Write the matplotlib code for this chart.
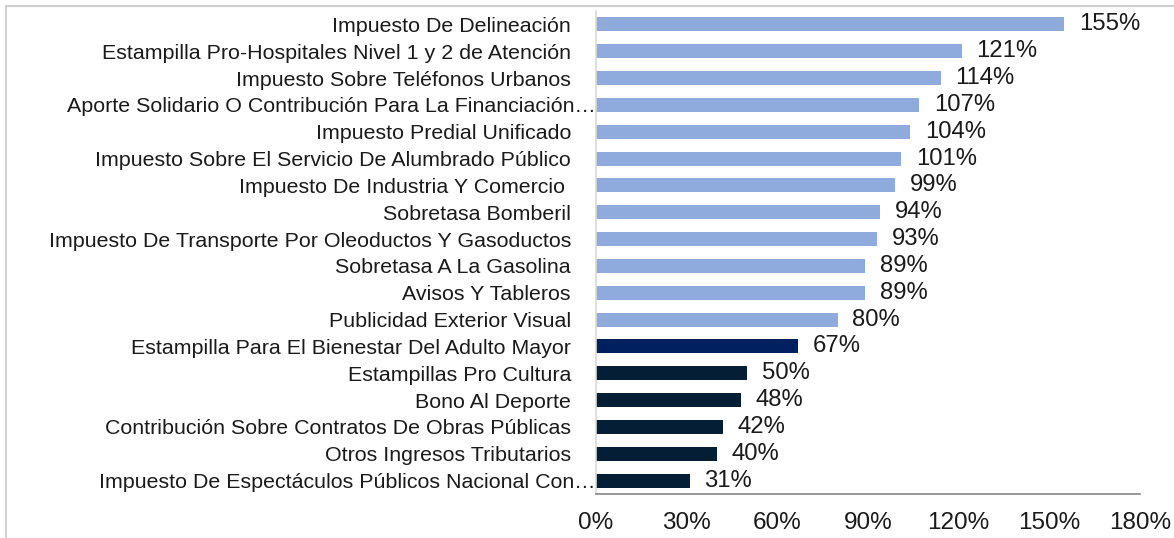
import matplotlib.pyplot as plt
from matplotlib.lines import Line2D

plt.rcParams['font.family'] = ['Liberation Sans', 'DejaVu Sans']

categorias = [
    'Impuesto De Delineación',
    'Estampilla Pro-Hospitales Nivel 1 y 2 de Atención',
    'Impuesto Sobre Teléfonos Urbanos',
    'Aporte Solidario O Contribución Para La Financiación…',
    'Impuesto Predial Unificado',
    'Impuesto Sobre El Servicio De Alumbrado Público',
    'Impuesto De Industria Y Comercio ',
    'Sobretasa Bomberil',
    'Impuesto De Transporte Por Oleoductos Y Gasoductos',
    'Sobretasa A La Gasolina',
    'Avisos Y Tableros',
    'Publicidad Exterior Visual',
    'Estampilla Para El Bienestar Del Adulto Mayor',
    'Estampillas Pro Cultura',
    'Bono Al Deporte',
    'Contribución Sobre Contratos De Obras Públicas',
    'Otros Ingresos Tributarios',
    'Impuesto De Espectáculos Públicos Nacional Con…',
]
valores = [155, 121, 114, 107, 104, 101, 99, 94, 93, 89, 89, 80, 67, 50, 48, 42, 40, 31]
grupo = ['alto'] * 12 + ['medio'] + ['bajo'] * 5
ticks_x = [0, 30, 60, 90, 120, 150, 180]

colores = {'alto': '#8FAADC', 'medio': '#002060', 'bajo': '#031E35'}
txt_color = '#1a1a1a'

fig = plt.figure(figsize=(11.74, 5.38), dpi=100)
ax = fig.add_axes([596 / 1174, 1 - 494 / 538, (1140 - 596) / 1174, (494 - 11) / 538])

pos = list(range(len(categorias)))[::-1]
bars = ax.barh(pos, valores, height=0.52, color=[colores[g] for g in grupo])

for b, v in zip(bars, valores):
    ax.annotate(f'{v}%', (b.get_width(), b.get_y() + b.get_height() / 2),
                xytext=(10.5, 0), textcoords='offset points',
                va='center', ha='left', fontsize=17.2, color=txt_color)

# las etiquetas recortadas (…) llegan hasta el eje, las demás dejan margen
etiquetas = []
for p, cat in zip(pos, categorias):
    if cat.endswith('…'):
        ax.text(0, p, cat, transform=ax.get_yaxis_transform(), ha='right',
                va='center_baseline', fontsize=15.4, color=txt_color)
        etiquetas.append('')
    else:
        etiquetas.append(cat)

ax.set_yticks(pos)
ax.set_yticklabels(etiquetas, fontsize=15.4, color=txt_color)
ax.set_ylim(-0.5, len(categorias) - 0.5)
ax.set_xlim(0, 180)
ax.set_xticks(ticks_x)
ax.set_xticklabels([f'{t}%' for t in ticks_x], fontsize=17.5, color=txt_color)
ax.tick_params(axis='y', length=0, pad=18)
ax.tick_params(axis='x', length=0, pad=13)

for s in ['top', 'right']:
    ax.spines[s].set_visible(False)
ax.spines['left'].set_color('#d9d9d9')
ax.spines['left'].set_linewidth(1.2)
ax.spines['bottom'].set_color('#868686')
ax.spines['bottom'].set_linewidth(1.2)

# marco gris de la figura (solo visible arriba e izquierda)
fig.add_artist(Line2D([5.5 / 1174, 5.5 / 1174], [0, 1 - 5.5 / 538], color='#d0d0d0', lw=1.5))
fig.add_artist(Line2D([5.5 / 1174, 1], [1 - 5.5 / 538, 1 - 5.5 / 538], color='#d0d0d0', lw=1.5))

fig.savefig('out.png', dpi=100)
